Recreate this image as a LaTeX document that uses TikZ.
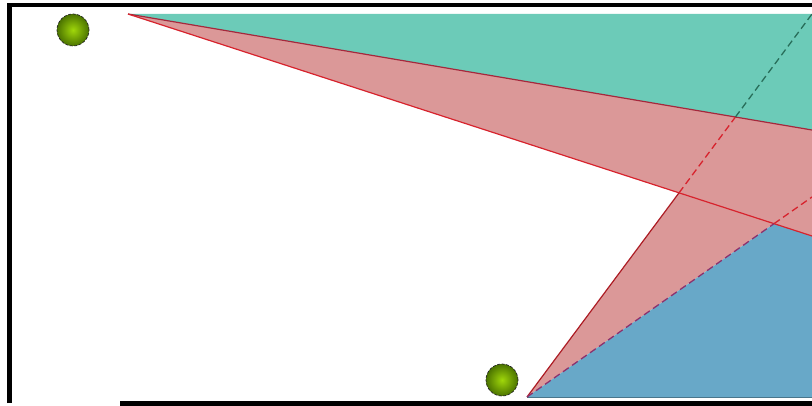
\documentclass[tikz,border=0pt]{standalone}
\definecolor{tealfill}{RGB}{108,203,184}
\definecolor{redfill}{RGB}{219,152,152}
\definecolor{bluefill}{RGB}{104,168,200}
\definecolor{darkred}{RGB}{165,40,60}
\definecolor{brightred}{RGB}{215,35,45}
\definecolor{dkgreen}{RGB}{40,110,90}
\definecolor{purpl}{RGB}{140,50,110}
\definecolor{ballin}{RGB}{160,215,10}
\definecolor{ballout}{RGB}{75,115,0}
\begin{document}
\begin{tikzpicture}[x=1pt,y=-1pt,
  frame/.style={line width=4.8pt,black},
  edge/.style={line width=1.2pt},
  dashline/.style={line width=1.3pt,dash pattern=on 7pt off 4pt},
  ball/.style={circle,minimum size=32pt,inner sep=0pt,draw=black!85,
    dash pattern=on 3pt off 1.5pt,line width=0.7pt,
    inner color=ballin,outer color=ballout}]
\useasboundingbox (0,0) rectangle (812,406);
% key points
\coordinate (A) at (128,14);
\coordinate (TR) at (812,14);
\coordinate (P1) at (812,130);
\coordinate (P2) at (812,236);
\coordinate (B) at (527,397);
\coordinate (F) at (812,197);
\coordinate (BR) at (812,397);
\coordinate (C) at (intersection of A--P2 and B--TR);
\coordinate (D) at (intersection of A--P1 and B--TR);
\coordinate (E) at (intersection of A--P2 and B--F);
% regions
\fill[tealfill] (A) -- (TR) -- (P1) -- cycle;
\fill[redfill] (A) -- (P1) -- (P2) -- cycle;
\fill[redfill] (B) -- (D) -- (P1) -- (F) -- cycle;
\fill[bluefill] (B) -- (E) -- (P2) -- (BR) -- cycle;
\draw[bluefill!70!black,line width=1pt] (B) -- (BR);
% boundary lines
\draw[edge,darkred] (A) -- (P1);
\draw[edge,brightred] (A) -- (P2);
\draw[edge,brightred!80!black] (B) -- (C);
\draw[dashline,brightred] (C) -- (D);
\draw[dashline,dkgreen] (D) -- (TR);
\draw[dashline,purpl] (B) -- (E);
\draw[dashline,brightred] (E) -- (F);
% frame
\draw[frame,line join=miter] (9.5,403) -- (9.5,5) -- (812,5);
\draw[frame] (120,403.5) -- (812,403.5);
% balls
\node[ball] (s1) at (73,30) {};
\node[ball] (s2) at (502,380) {};
\end{tikzpicture}
\end{document}
